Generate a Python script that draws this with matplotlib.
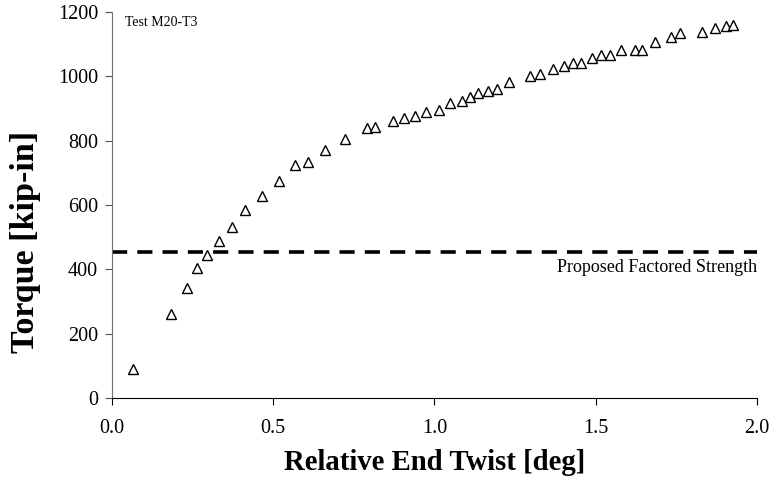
import matplotlib
matplotlib.use("Agg")
import matplotlib.pyplot as plt

# test data
twist = [0.065, 0.183, 0.233, 0.264, 0.295, 0.331, 0.371, 0.412, 0.464, 0.517,
         0.567, 0.609, 0.662, 0.721, 0.790, 0.815, 0.870, 0.906, 0.940, 0.975,
         1.014, 1.048, 1.084, 1.111, 1.134, 1.166, 1.195, 1.231, 1.297, 1.328,
         1.367, 1.402, 1.431, 1.455, 1.489, 1.516, 1.544, 1.577, 1.622, 1.645,
         1.683, 1.734, 1.763, 1.830, 1.869, 1.903, 1.926]
torque = [90, 260, 343, 404, 445, 489, 533, 584, 628, 676,
          724, 735, 771, 805, 838, 843, 861, 870, 878, 890,
          897, 916, 922, 935, 947, 954, 962, 984, 1002, 1008,
          1023, 1033, 1043, 1043, 1057, 1067, 1067, 1082, 1083, 1082,
          1107, 1123, 1135, 1137, 1151, 1158, 1159]
factored_strength = 453

plt.rcParams['font.family'] = ['Liberation Serif', 'DejaVu Serif']

fig = plt.figure(figsize=(7.7, 4.84), dpi=100)
ax = fig.add_axes([0.1455, 0.178, 0.8375, 0.797])

ax.plot(twist, torque, linestyle='none', marker='^', markersize=7.5,
        markerfacecolor='white', markeredgecolor='black', markeredgewidth=1.0)
ax.axhline(factored_strength, color='black', lw=2.6, linestyle=(0, (4.2, 2.8)))

ax.text(2.0, factored_strength - 22, 'Proposed Factored Strength',
        ha='right', va='top', fontsize=13)
ax.text(0.02, 0.99, 'Test M20-T3', transform=ax.transAxes,
        ha='left', va='top', fontsize=10)

ax.set_xlim(0, 2.0)
ax.set_ylim(0, 1200)
ax.set_xticks([0.0, 0.5, 1.0, 1.5, 2.0])
ax.set_xticklabels(['0.0', '0.5', '1.0', '1.5', '2.0'])
ax.set_yticks([0, 200, 400, 600, 800, 1000, 1200])

for s in ['top', 'right']:
    ax.spines[s].set_visible(False)
ax.spines['left'].set_color('#707070')
ax.spines['bottom'].set_color('black')
ax.tick_params(axis='both', labelsize=14.5, direction='out', length=5)
ax.tick_params(axis='x', pad=10)
ax.tick_params(axis='y', pad=5, colors='#505050', labelcolor='black')

ax.set_xlabel('Relative End Twist [deg]', fontsize=20.7, fontweight='bold', labelpad=8)
ax.set_ylabel('Torque [kip-in]', fontsize=24.5, fontweight='bold')
# excel-style: y title centred on the whole chart height
ax.yaxis.set_label_coords(-0.110, 0.404)

fig.savefig('out.png', dpi=100)
